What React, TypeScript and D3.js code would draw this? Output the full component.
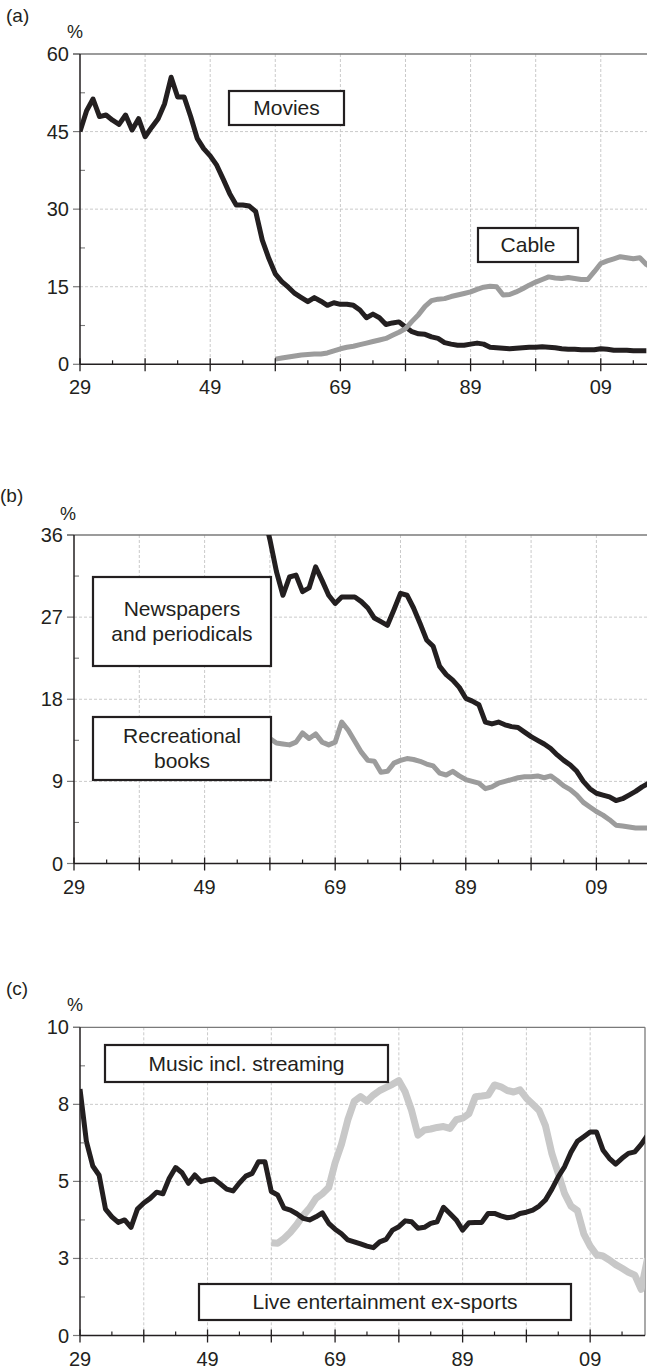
import React from 'react';
import * as d3 from 'd3';

// ---------- DATA ----------
// Panel (a): share of recreation spending, %
const moviesYears = [1929,1930,1931,1932,1933,1934,1935,1936,1937,1938,1939,1940,1941,1942,1943,1944,1945,1946,1947,1948,1949,1950,1951,1952,1953,1954,1955,1956,1957,1958,1959,1960,1961,1962,1963,1964,1965,1966,1967,1968,1969,1970,1971,1972,1973,1974,1975,1976,1977,1978,1979,1980,1981,1982,1983,1984,1985,1986,1987,1988,1989,1990,1991,1992,1993,1994,1995,1996,1997,1998,1999,2000,2001,2002,2003,2004,2005,2006,2007,2008,2009,2010,2011,2012,2013,2014,2015,2016];
const moviesValues = [45.0,49.0,51.3,47.9,48.2,47.2,46.4,48.2,45.3,47.5,44.0,45.8,47.5,50.4,55.5,51.7,51.7,47.9,43.7,41.7,40.3,38.5,35.8,33.0,30.8,30.8,30.6,29.5,24.0,20.5,17.5,16.0,14.9,13.7,12.9,12.1,12.9,12.2,11.4,11.9,11.6,11.6,11.4,10.5,9.0,9.7,9.0,7.7,8.0,8.2,7.2,6.3,5.9,5.8,5.3,5.0,4.2,3.9,3.7,3.7,3.9,4.1,3.9,3.3,3.2,3.1,3.0,3.1,3.2,3.3,3.3,3.4,3.3,3.2,3.0,2.9,2.9,2.8,2.8,2.8,3.0,2.9,2.7,2.7,2.7,2.6,2.6,2.6];

const cableYears = [1959,1960,1961,1962,1963,1964,1965,1966,1967,1968,1969,1970,1971,1972,1973,1974,1975,1976,1977,1978,1979,1980,1981,1982,1983,1984,1985,1986,1987,1988,1989,1990,1991,1992,1993,1994,1995,1996,1997,1998,1999,2000,2001,2002,2003,2004,2005,2006,2007,2008,2009,2010,2011,2012,2013,2014,2015,2016,2017];
const cableValues = [1.0,1.2,1.4,1.6,1.8,1.9,2.0,2.0,2.2,2.6,3.0,3.3,3.5,3.8,4.1,4.4,4.7,5.0,5.6,6.2,6.9,8.3,9.6,11.2,12.3,12.6,12.7,13.1,13.4,13.7,14.0,14.5,14.9,15.1,15.0,13.4,13.5,14.0,14.6,15.3,15.9,16.4,16.9,16.7,16.6,16.8,16.6,16.4,16.4,17.9,19.5,20.0,20.4,20.8,20.6,20.4,20.6,19.3,18.5];

// Panel (b)
const newsYears = [1958,1959,1960,1961,1962,1963,1964,1965,1966,1967,1968,1969,1970,1971,1972,1973,1974,1975,1976,1977,1978,1979,1980,1981,1982,1983,1984,1985,1986,1987,1988,1989,1990,1991,1992,1993,1994,1995,1996,1997,1998,1999,2000,2001,2002,2003,2004,2005,2006,2007,2008,2009,2010,2011,2012,2013,2014,2015,2016,2017];
const newsValues = [38.5,35.5,32.0,29.4,31.4,31.6,29.8,30.2,32.5,31.0,29.4,28.5,29.2,29.2,29.2,28.7,28.0,26.9,26.5,26.1,27.8,29.6,29.4,28.0,26.3,24.5,23.8,21.6,20.7,20.1,19.3,18.1,17.8,17.4,15.5,15.3,15.5,15.2,15.0,14.9,14.4,13.9,13.5,13.1,12.6,11.9,11.3,10.8,10.1,9.0,8.2,7.7,7.5,7.3,6.9,7.1,7.5,7.9,8.4,8.8];

const booksYears = [1958,1959,1960,1961,1962,1963,1964,1965,1966,1967,1968,1969,1970,1971,1972,1973,1974,1975,1976,1977,1978,1979,1980,1981,1982,1983,1984,1985,1986,1987,1988,1989,1990,1991,1992,1993,1994,1995,1996,1997,1998,1999,2000,2001,2002,2003,2004,2005,2006,2007,2008,2009,2010,2011,2012,2013,2014,2015,2016,2017];
const booksValues = [14.0,13.7,13.2,13.1,13.0,13.3,14.3,13.7,14.2,13.3,13.0,13.3,15.5,14.6,13.4,12.2,11.3,11.2,10.0,10.1,11.0,11.3,11.5,11.4,11.2,10.9,10.7,9.9,9.7,10.1,9.6,9.2,9.0,8.8,8.2,8.4,8.8,9.0,9.2,9.4,9.5,9.5,9.6,9.4,9.6,9.1,8.5,8.1,7.5,6.7,6.2,5.7,5.3,4.8,4.2,4.1,4.0,3.9,3.9,3.9];

// Panel (c)
const musicYears = [1929,1930,1931,1932,1933,1934,1935,1936,1937,1938,1939,1940,1941,1942,1943,1944,1945,1946,1947,1948,1949,1950,1951,1952,1953,1954,1955,1956,1957,1958,1959,1960,1961,1962,1963,1964,1965,1966,1967,1968,1969,1970,1971,1972,1973,1974,1975,1976,1977,1978,1979,1980,1981,1982,1983,1984,1985,1986,1987,1988,1989,1990,1991,1992,1993,1994,1995,1996,1997,1998,1999,2000,2001,2002,2003,2004,2005,2006,2007,2008,2009,2010,2011,2012,2013,2014,2015,2016,2017,2018];
const musicValues = [8.0,6.3,5.5,5.2,4.1,3.85,3.67,3.75,3.51,4.1,4.3,4.45,4.65,4.6,5.1,5.45,5.28,4.94,5.21,4.99,5.05,5.08,4.92,4.75,4.69,4.95,5.17,5.26,5.64,5.64,4.67,4.56,4.13,4.07,3.95,3.8,3.75,3.85,3.98,3.64,3.45,3.3,3.1,3.04,2.97,2.9,2.85,3.04,3.12,3.42,3.53,3.72,3.69,3.48,3.51,3.64,3.69,4.16,3.96,3.75,3.42,3.66,3.67,3.67,3.96,3.96,3.88,3.82,3.85,3.96,4.0,4.07,4.2,4.4,4.75,5.15,5.48,5.95,6.3,6.45,6.6,6.6,6.02,5.75,5.56,5.75,5.91,5.96,6.2,6.5];

const liveYears = [1959,1960,1961,1962,1963,1964,1965,1966,1967,1968,1969,1970,1971,1972,1973,1974,1975,1976,1977,1978,1979,1980,1981,1982,1983,1984,1985,1986,1987,1988,1989,1990,1991,1992,1993,1994,1995,1996,1997,1998,1999,2000,2001,2002,2003,2004,2005,2006,2007,2008,2009,2010,2011,2012,2013,2014,2015,2016,2017,2018];
const liveValues = [3.01,2.99,3.15,3.35,3.6,3.9,4.13,4.45,4.6,4.8,5.6,6.2,7.0,7.6,7.75,7.6,7.8,7.95,8.05,8.15,8.27,7.9,7.3,6.5,6.67,6.7,6.75,6.78,6.72,7.0,7.05,7.2,7.75,7.77,7.8,8.13,8.07,7.95,7.9,7.97,7.7,7.5,7.3,6.8,5.9,5.26,4.6,4.2,4.05,3.3,2.9,2.62,2.58,2.45,2.3,2.18,2.05,1.96,1.5,2.5];

// Axis ticks
const xMajorYears = [1929,1939,1949,1959,1969,1979,1989,1999,2009];
const xMinorYears = [1934,1944,1954,1964,1974,1984,1994,2004,2014];
const xLabelYears = [1929,1949,1969,1989,2009];
const xLabelTexts = ['29','49','69','89','09'];

const aTicks = [0,15,30,45,60];
const aTickLabels = ['0','15','30','45','60'];
const bTicks = [0,9,18,27,36];
const bTickLabels = ['0','9','18','27','36'];
const cTicks = [0,2.5,5,7.5,10];
const cTickLabels = ['0','3','5','8','10'];

// ---------- STYLE ----------
const INK = '#231f20';
const FONT = '"Liberation Sans", Arial, Helvetica, sans-serif';
const GRID = '#c4c4c4';
const FRAME = '#7a7a7a';

type Series = { years: number[]; values: number[]; color: string; width: number };
type Box = { x: number; y: number; w: number; h: number; lines: string[] };

type PanelCfg = {
  id: string;
  tag: string;
  tagX: number;
  tagY: number;
  pctX: number;
  pctY: number;
  left: number;
  right: number;
  yearEnd: number;
  top: number;
  bottom: number;
  yMax: number;
  ticks: number[];
  tickLabels: string[];
  series: Series[];
  boxes: Box[];
  rightBorder: boolean;
};

function Panel({ cfg }: { cfg: PanelCfg }) {
  const x = d3.scaleLinear().domain([1929, cfg.yearEnd]).range([cfg.left, cfg.right]);
  const y = d3.scaleLinear().domain([0, cfg.yMax]).range([cfg.bottom, cfg.top]);
  const line = d3
    .line<[number, number]>()
    .x((d) => x(d[0]))
    .y((d) => y(d[1]))
    .curve(d3.curveLinear);
  const minorTicks = cfg.ticks.slice(0, -1).map((t, i) => (t + cfg.ticks[i + 1]) / 2);
  const clipId = 'clip-' + cfg.id;
  return (
    <g>
      <defs>
        <clipPath id={clipId}>
          <rect x={cfg.left} y={cfg.top} width={cfg.right - cfg.left} height={cfg.bottom - cfg.top + 6} />
        </clipPath>
      </defs>
      {/* panel tag and unit */}
      <text x={cfg.tagX} y={cfg.tagY} fontSize={19} fontFamily={FONT} fill={INK}>{cfg.tag}</text>
      <text x={cfg.pctX} y={cfg.pctY} fontSize={18} fontFamily={FONT} fill={INK} textAnchor="middle">%</text>
      {/* vertical grid */}
      {xMajorYears.slice(1).map((yr) => (
        <line key={'vg' + yr} x1={x(yr)} x2={x(yr)} y1={cfg.top} y2={cfg.bottom}
          stroke={GRID} strokeWidth={0.9} strokeDasharray="3,2" />
      ))}
      {/* horizontal grid */}
      {cfg.ticks.slice(1, -1).map((t) => (
        <line key={'hg' + t} x1={cfg.left} x2={cfg.right} y1={y(t)} y2={y(t)}
          stroke={GRID} strokeWidth={0.9} strokeDasharray="3,2" />
      ))}
      {/* frame top / right */}
      <line x1={cfg.left - 7} x2={cfg.right} y1={y(cfg.yMax)} y2={y(cfg.yMax)} stroke={FRAME} strokeWidth={1.3} />
      {cfg.rightBorder && (
        <line x1={cfg.right} x2={cfg.right} y1={cfg.top} y2={cfg.bottom} stroke={FRAME} strokeWidth={1.3} />
      )}
      {/* series */}
      <g clipPath={`url(#${clipId})`}>
        {cfg.series.map((s, i) => (
          <path key={'s' + i}
            d={line(s.years.map((yr, j) => [yr, s.values[j]] as [number, number])) || ''}
            fill="none" stroke={s.color} strokeWidth={s.width}
            strokeLinejoin="round" strokeLinecap="butt" />
        ))}
      </g>
      {/* y ticks */}
      {cfg.ticks.map((t, i) => (
        <g key={'yt' + t}>
          <line x1={cfg.left - 7} x2={cfg.left} y1={y(t)} y2={y(t)} stroke={FRAME} strokeWidth={1.2} />
          <text x={cfg.left - 11} y={y(t) + 7} fontSize={20} fontFamily={FONT} fill={INK} textAnchor="end">
            {cfg.tickLabels[i]}
          </text>
        </g>
      ))}
      {minorTicks.map((t) => (
        <line key={'ym' + t} x1={cfg.left} x2={cfg.left + 5} y1={y(t)} y2={y(t)} stroke={FRAME} strokeWidth={1.1} />
      ))}
      {/* axes */}
      <line x1={cfg.left} x2={cfg.left} y1={cfg.top} y2={cfg.bottom} stroke={INK} strokeWidth={1.5} />
      <line x1={cfg.left} x2={cfg.right} y1={cfg.bottom} y2={cfg.bottom} stroke={INK} strokeWidth={1.5} />
      {xMajorYears.map((yr) => (
        <line key={'xt' + yr} x1={x(yr)} x2={x(yr)} y1={cfg.bottom - 6} y2={cfg.bottom + 7} stroke={INK} strokeWidth={1.3} />
      ))}
      {xMinorYears.filter((yr) => x(yr) < cfg.right).map((yr) => (
        <line key={'xm' + yr} x1={x(yr)} x2={x(yr)} y1={cfg.bottom - 4} y2={cfg.bottom} stroke={INK} strokeWidth={1.2} />
      ))}
      {xLabelYears.map((yr, i) => (
        <text key={'xl' + yr} x={x(yr)} y={cfg.bottom + 30} fontSize={20} fontFamily={FONT} fill={INK} textAnchor="middle">
          {xLabelTexts[i]}
        </text>
      ))}
      {/* label boxes */}
      {cfg.boxes.map((b, i) => {
        const lh = 25;
        const cy = b.y + b.h / 2;
        const start = cy - ((b.lines.length - 1) * lh) / 2 + 7;
        return (
          <g key={'b' + i}>
            <rect x={b.x} y={b.y} width={b.w} height={b.h} fill="#ffffff" stroke={INK} strokeWidth={2.2} />
            {b.lines.map((ln, k) => (
              <text key={k} x={b.x + b.w / 2} y={start + k * lh} fontSize={21} fontFamily={FONT} fill={INK} textAnchor="middle">
                {ln}
              </text>
            ))}
          </g>
        );
      })}
    </g>
  );
}

const panels: PanelCfg[] = [
  {
    id: 'a', tag: '(a)', tagX: 6, tagY: 22, pctX: 75, pctY: 38,
    left: 80, right: 647, yearEnd: 2016.1, top: 54, bottom: 364.3, yMax: 60,
    ticks: aTicks, tickLabels: aTickLabels,
    series: [
      { years: moviesYears, values: moviesValues, color: INK, width: 5 },
      { years: cableYears, values: cableValues, color: '#9c9c9c', width: 5 },
    ],
    boxes: [
      { x: 229, y: 91, w: 115, h: 34, lines: ['Movies'] },
      { x: 478, y: 228, w: 100, h: 34, lines: ['Cable'] },
    ],
    rightBorder: false,
  },
  {
    id: 'b', tag: '(b)', tagX: 0, tagY: 502, pctX: 68, pctY: 520,
    left: 74, right: 647, yearEnd: 2016.75, top: 535, bottom: 863.5, yMax: 36,
    ticks: bTicks, tickLabels: bTickLabels,
    series: [
      { years: booksYears, values: booksValues, color: '#9c9c9c', width: 5 },
      { years: newsYears, values: newsValues, color: INK, width: 5 },
    ],
    boxes: [
      { x: 93, y: 577, w: 178, h: 89, lines: ['Newspapers', 'and periodicals'] },
      { x: 93, y: 717, w: 178, h: 63, lines: ['Recreational', 'books'] },
    ],
    rightBorder: false,
  },
  {
    id: 'c', tag: '(c)', tagX: 6, tagY: 995, pctX: 75, pctY: 1011,
    left: 80, right: 645, yearEnd: 2017.6, top: 1027.3, bottom: 1335.5, yMax: 10,
    ticks: cTicks, tickLabels: cTickLabels,
    series: [
      { years: liveYears, values: liveValues, color: '#c8c8c8', width: 7 },
      { years: musicYears, values: musicValues, color: INK, width: 5 },
    ],
    boxes: [
      { x: 105, y: 1045, w: 283, h: 37, lines: ['Music incl. streaming'] },
      { x: 199, y: 1284, w: 372, h: 36, lines: ['Live entertainment ex-sports'] },
    ],
    rightBorder: true,
  },
];

export default function App() {
  return (
    <svg width={647} height={1371} viewBox="0 0 647 1371"
      style={{ position: 'absolute', left: 0, top: 0, background: '#ffffff' }}>
      <rect x={0} y={0} width={647} height={1371} fill="#ffffff" />
      {panels.map((p) => (
        <Panel key={p.id} cfg={p} />
      ))}
    </svg>
  );
}
